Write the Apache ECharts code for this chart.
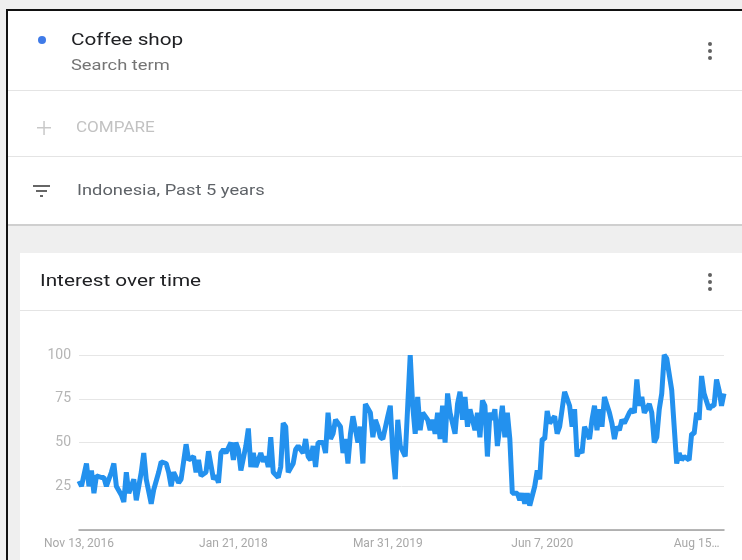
<!DOCTYPE html>
<html>
<head>
<meta charset="utf-8">
<script src="https://cdn.jsdelivr.net/npm/echarts@6/dist/echarts.min.js"></script>
<style>
  html, body { margin: 0; padding: 0; background: #fff; }
  #trend { width: 742px; height: 560px; }
</style>
</head>
<body>
<div id="trend"></div>
<script>
// week number (from Nov 13, 2016) of each point
var weeks = [0,1,3,4,5,6,7,9,10,11,13,14,15,17,18,19,20,22,23,25,26,27,29,30,32,33,35,36,37,38,40,41,
  43,44,46,47,48,49,51,52,54,55,56,57,58,59,61,62,63,64,65,67,68,69,70,71,73,74,75,76,77,78,80,81,82,83,84,86,87,88,
  90,91,92,93,94,95,96,98,99,100,101,102,103,105,106,107,108,109,110,112,113,114,115,117,118,119,120,121,122,124,125,126,127,128,129,131,132,
  133,134,135,136,137,138,140,141,142,143,144,145,146,147,148,149,151,152,153,154,155,156,157,159,160,161,162,163,164,165,166,167,168,170,171,172,173,
  174,176,177,178,179,180,181,183,184,185,186,187,188,189,191,192,193,194,195,197,198,199,200,201,202,203,205,206,207,208,209,210,211,213,214,215,216,217,
  218,219,221,222,223,224,225,226,227,229,230,231,232,233,234,235,236,238,239,240,241,242,243,245,246,247,248,249,250,251,253,254,255,256,257,258,259]

// interest (0-100) at those weeks
var interest = [28,25,38,25,34,21,31,30,30,25,33,38,25,20,16,33,21,29,17,33,44,29,15,23,33,39,38,33,25,33,27,29,
  49,40,42,33,40,31,33,45,29,31,27,44,46,44,50,40,50,46,34,48,58,36,44,36,44,39,42,36,53,33,30,36,61,59,33,38,46,48,
  44,52,42,40,48,36,50,50,44,67,52,55,63,59,44,52,38,55,65,50,59,38,72,67,53,63,59,53,52,65,71,44,29,63,48,42,71,
  100,71,55,76,57,67,63,57,63,55,67,52,71,50,78,67,55,72,79,63,76,59,69,57,67,53,74,71,42,67,63,69,48,71,53,67,52,
  21,21,17,21,15,21,14,25,34,29,52,52,68,61,65,55,59,69,79,71,59,69,42,46,44,59,52,63,71,57,69,59,76,67,61,52,59,57,
  63,61,67,69,67,86,71,76,67,72,67,50,53,69,78,100,98,80,59,38,44,40,42,40,55,55,67,63,88,78,69,71,71,86,80,71,78]

var weekLabels = ['Nov 13, 2016', 'Jan 21, 2018', 'Mar 31, 2019', 'Jun 7, 2020', 'Aug 15\u2026']
var labelWeeks = [0, 62, 124, 186, 248]
var lastWeek = 259
var yTicks = [0, 25, 50, 75, 100]

var labelAt = {}
labelWeeks.forEach(function (w, k) { labelAt[w] = weekLabels[k] })

var myChart = echarts.init(document.getElementById('trend'))

var FONT = 'Roboto, "Noto Sans", sans-serif'
var SX = 1.22 // the screenshot is a bit stretched sideways

function label(x, y, text, size, color) {
  return {
    type: 'text', x: x, y: y, scaleX: SX,
    style: { text: text, font: size + 'px ' + FONT, fill: color, verticalAlign: 'middle' }
  }
}

function dots(x, y) {
  return [-7, 0, 7].map(function (d) {
    return { type: 'circle', shape: { cx: x, cy: y + d, r: 2 }, style: { fill: '#616161' } }
  })
}

myChart.setOption({
  backgroundColor: '#efefef',
  animation: false,
  graphic: [
    // top card
    { type: 'rect', shape: { x: 8, y: 11, width: 734, height: 213 }, style: { fill: '#fff' } },
    { type: 'rect', shape: { x: 8, y: 224, width: 734, height: 2 }, style: { fill: '#cfcfcf' } },
    { type: 'rect', shape: { x: 8, y: 90, width: 734, height: 1 }, style: { fill: '#e4e4e4' } },
    { type: 'rect', shape: { x: 8, y: 156, width: 734, height: 1 }, style: { fill: '#e4e4e4' } },
    { type: 'circle', shape: { cx: 42, cy: 40, r: 4 }, style: { fill: '#3f7be8' } },
    label(71, 41, 'Coffee shop', 17, '#202124'),
    label(71, 66, 'Search term', 15, '#757575'),
    { type: 'rect', shape: { x: 37, y: 127, width: 14, height: 1.5 }, style: { fill: '#c8c8c8' } },
    { type: 'rect', shape: { x: 43.3, y: 121, width: 1.5, height: 14 }, style: { fill: '#c8c8c8' } },
    label(76, 128, 'COMPARE', 14, '#c2c2c2'),
    { type: 'rect', shape: { x: 33, y: 185, width: 17, height: 2 }, style: { fill: '#666' } },
    { type: 'rect', shape: { x: 36, y: 190, width: 11, height: 2 }, style: { fill: '#666' } },
    { type: 'rect', shape: { x: 40, y: 195, width: 3, height: 2 }, style: { fill: '#666' } },
    label(77, 191, 'Indonesia, Past 5 years', 15, '#5f6368'),
    // chart card
    { type: 'rect', shape: { x: 20, y: 253, width: 722, height: 307 }, style: { fill: '#fff' } },
    { type: 'rect', shape: { x: 20, y: 310, width: 722, height: 1 }, style: { fill: '#e4e4e4' } },
    label(40, 282, 'Interest over time', 17, '#202124'),
    // frame
    { type: 'rect', shape: { x: 6, y: 9, width: 736, height: 2 }, style: { fill: '#111' } },
    { type: 'rect', shape: { x: 6, y: 9, width: 2, height: 551 }, style: { fill: '#111' } }
  ].concat(dots(710, 51), dots(710, 282)),
  grid: { left: 79, right: 18, top: 355, bottom: 30 },
  xAxis: {
    type: 'value',
    min: 0, max: lastWeek, interval: 62,
    axisLine: { lineStyle: { color: '#9e9e9e', width: 1.5 } },
    axisTick: { show: false },
    splitLine: { show: false },
    axisLabel: {
      formatter: function (v) { return labelAt[v] || '' },
      color: '#a8a8a8', fontSize: 12, fontFamily: FONT, margin: 8
    }
  },
  yAxis: {
    type: 'value',
    min: yTicks[0], max: yTicks[yTicks.length - 1], interval: 25,
    axisLine: { show: false },
    axisTick: { show: false },
    splitLine: { lineStyle: { color: '#e6e6e6', width: 1 } },
    axisLabel: {
      formatter: function (v) { return v === 0 ? '' : String(v) },
      color: '#b5b5b5', fontSize: 14, fontFamily: FONT, margin: 8
    }
  },
  series: [{
    name: 'Coffee shop',
    type: 'line',
    data: weeks.map(function (w, i) { return [w, interest[i]] }),
    symbol: 'none',
    lineStyle: { color: '#2391ee', width: 5 }
  }]
})
</script>
</body>
</html>
